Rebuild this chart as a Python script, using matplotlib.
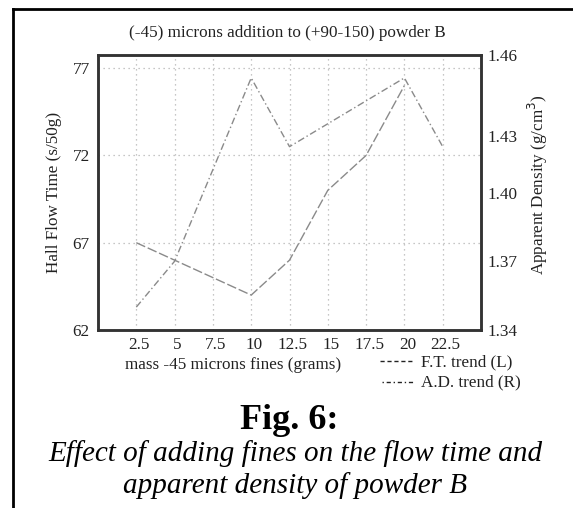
import matplotlib
matplotlib.use("Agg")
import matplotlib.pyplot as plt
from matplotlib.lines import Line2D
from matplotlib.transforms import ScaledTranslation

# ---- data ----
x_ticks = [2.5, 5, 7.5, 10, 12.5, 15, 17.5, 20, 22.5]
x_tick_labels = ["2.5", "5", "7.5", "10", "12.5", "15", "17.5", "20", "22.5"]
ft_x = [2.5, 5, 10, 12.5, 15, 17.5, 20]
ft_y = [67, 66, 64, 66, 70, 72, 76]
ad_x = [2.5, 5, 10, 12.5, 20, 22.5]
ad_y = [1.35, 1.37, 1.45, 1.42, 1.45, 1.42]
left_ticks = [62, 67, 72, 77]
right_ticks = [1.34, 1.37, 1.40, 1.43, 1.46]
right_tick_labels = ["1.34", "1.37", "1.40", "1.43", "1.46"]

plt.rcParams['font.family'] = ['Liberation Serif', 'DejaVu Serif']
W, H = 573, 508
DPI = 100
fig = plt.figure(figsize=(W / DPI, H / DPI), dpi=DPI)

def fx(px):
    return px / W

def fy(py):
    return 1 - py / H

FS = 12.3
TXT = '#222222'

L, R, T, B = 98, 481, 55, 330
ax = fig.add_axes([fx(L), fy(B), fx(R) - fx(L), fy(T) - fy(B)])
ax2 = ax.twinx()

line_col = '#8a8a8a'
ax.plot(ft_x, ft_y, color=line_col, lw=1.0, linestyle=(0, (7, 2)))
ax2.plot(ad_x, ad_y, color=line_col, lw=1.0, linestyle=(0, (5, 2, 1, 2)))

ax.set_xlim(0, 25)
ax.set_ylim(62, 77.75)
ax2.set_ylim(1.34, 1.46)

ax.set_xticks(x_ticks)
ax.set_xticklabels(x_tick_labels)
ax.set_yticks(left_ticks)
ax2.set_yticks(right_ticks)
ax2.set_yticklabels(right_tick_labels)

ax.tick_params(axis='x', length=0, labelsize=FS, pad=5, colors=TXT)
ax.tick_params(axis='y', length=0, labelsize=FS, pad=6, colors=TXT)
ax2.tick_params(axis='y', length=0, labelsize=FS, pad=5, colors=TXT)

# small label offsets as in the reference
for lab in ax.get_xticklabels():
    lab.set_transform(lab.get_transform() +
                      ScaledTranslation(3 / DPI, 0, fig.dpi_scale_trans))
for lab in ax2.get_yticklabels():
    if lab.get_text() == "1.43":
        lab.set_transform(lab.get_transform() +
                          ScaledTranslation(0, -12 / DPI, fig.dpi_scale_trans))

ax.grid(True, color='#b4b4b4', linestyle=(0, (1, 3)), lw=0.9)
ax.set_axisbelow(True)

for a in (ax, ax2):
    for s in a.spines.values():
        s.set_linewidth(1.8)
        s.set_color('#333333')

# title and axis labels
fig.text(fx(287), fy(33), "(-45) microns addition to (+90-150) powder B",
         ha='center', va='center', fontsize=FS, color=TXT)
fig.text(fx(54), fy(192), "Hall Flow Time (s/50g)", rotation=90,
         ha='center', va='center', fontsize=FS, color=TXT)
fig.text(fx(538), fy(185), "Apparent Density (g/cm$^3$)", rotation=90,
         ha='center', va='center', fontsize=FS, color=TXT)
fig.text(fx(125), fy(365), "mass -45 microns fines (grams)",
         ha='left', va='center', fontsize=FS, color=TXT)

# legend (manual placement)
fig.add_artist(Line2D([fx(380), fx(414)], [fy(361), fy(361)], color=TXT,
                      lw=1.0, linestyle=(0, (3, 2))))
fig.text(fx(421), fy(362), "F.T. trend (L)", ha='left', va='center',
         fontsize=FS, color=TXT)
fig.add_artist(Line2D([fx(382), fx(414)], [fy(382), fy(382)], color=TXT,
                      lw=1.0, linestyle=(0, (1, 2, 3, 2))))
fig.text(fx(421), fy(382), "A.D. trend (R)", ha='left', va='center',
         fontsize=FS, color=TXT)

# caption
fig.text(fx(289), fy(429), "Fig. 6:", ha='center', va='baseline',
         fontsize=26, fontweight='bold', color='black')
fig.text(fx(295), fy(461), "Effect of adding fines on the flow time and",
         ha='center', va='baseline', fontsize=21, style='italic', color='black')
fig.text(fx(295), fy(493), "apparent density of powder B",
         ha='center', va='baseline', fontsize=21, style='italic', color='black')

# outer frame (left and top edges)
fig.add_artist(Line2D([fx(13), fx(13)], [fy(9), 0], color='black', lw=2))
fig.add_artist(Line2D([fx(13), 1], [fy(9), fy(9)], color='black', lw=2))

fig.savefig("out.png", dpi=DPI)
